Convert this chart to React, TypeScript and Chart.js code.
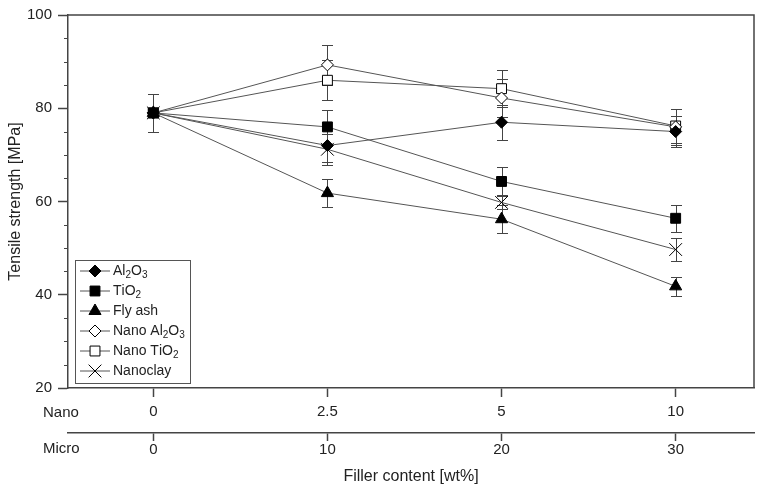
import React, { useEffect, useRef } from 'react';
import { Chart, registerables } from 'chart.js';
import { drawPoint } from 'chart.js/helpers';

Chart.register(...registerables);

// ---- data ----
const positions = [0, 1, 2, 3];
const nanoLabels = ['0', '2.5', '5', '10'];
const microLabels = ['0', '10', '20', '30'];
const yMajorTicks = [20, 40, 60, 80, 100];

const seriesNames = ['Al2O3', 'TiO2', 'Fly ash', 'Nano Al2O3', 'Nano TiO2', 'Nanoclay'];

const al2o3 = [79, 72, 77, 75];
const al2o3Err = [4, 3.5, 3.8, 3.3];
const tio2 = [79, 76, 64.3, 56.4];
const tio2Err = [4, 3.6, 3.2, 2.9];
const flyAsh = [79, 61.8, 56.2, 41.8];
const flyAshErr = [4, 3, 3, 2];
const nanoAl2o3 = [79, 89.3, 82.2, 76];
const nanoAl2o3Err = [4, 4.3, 4, 3.8];
const nanoTio2 = [79, 86, 84.2, 76.2];
const nanoTio2Err = [4, 4.3, 4, 3.7];
const nanoclay = [79, 71.2, 59.8, 49.7];
const nanoclayErr = [4, 3.3, 1.5, 2.4];

const seriesValues = [al2o3, tio2, flyAsh, nanoAl2o3, nanoTio2, nanoclay];
const seriesErrors = [al2o3Err, tio2Err, flyAshErr, nanoAl2o3Err, nanoTio2Err, nanoclayErr];

// ---- styles ----
const FONT = '"Liberation Sans", Arial, sans-serif';
const TEXT = '#222';
const AXIS = '#444';
const LINE = '#555';
const styles = [
  { pointStyle: 'rectRot', radius: 6, fill: '#000' },
  { pointStyle: 'rect', radius: 7, fill: '#000' },
  { pointStyle: 'triangle', radius: 7, fill: '#000' },
  { pointStyle: 'rectRot', radius: 6, fill: '#fff' },
  { pointStyle: 'rect', radius: 7, fill: '#fff' },
  { pointStyle: 'crossRot', radius: 9, fill: '#fff' },
];

const drawSubText = (ctx: CanvasRenderingContext2D, text: string, x: number, y: number, size: number) => {
  let cx = x;
  for (const ch of text) {
    const sub = /[0-9]/.test(ch);
    ctx.font = `${sub ? Math.round(size * 0.7) : size}px ${FONT}`;
    ctx.fillText(ch, cx, sub ? y + size * 0.3 : y);
    cx += ctx.measureText(ch).width;
  }
};

const decorPlugin = {
  id: 'decor',
  beforeDatasetsDraw(chart: any) {
    const { ctx, chartArea: ca, scales } = chart;
    const xs = scales.x;
    const ys = scales.y;
    ctx.save();
    // error bars
    ctx.strokeStyle = AXIS;
    ctx.lineWidth = 1;
    seriesValues.forEach((vals, si) => {
      const errs = seriesErrors[si];
      vals.forEach((v, i) => {
        const px = Math.round(xs.getPixelForValue(positions[i])) + 0.5;
        const t = Math.round(ys.getPixelForValue(v + errs[i])) + 0.5;
        const b = Math.round(ys.getPixelForValue(v - errs[i])) + 0.5;
        ctx.beginPath();
        ctx.moveTo(px, t); ctx.lineTo(px, b);
        ctx.moveTo(px - 5.5, t); ctx.lineTo(px + 5.5, t);
        ctx.moveTo(px - 5.5, b); ctx.lineTo(px + 5.5, b);
        ctx.stroke();
      });
    });
    ctx.restore();
  },
  afterDraw(chart: any) {
    const { ctx, chartArea: ca, scales } = chart;
    const ys = scales.y;
    ctx.save();
    // frame top/right
    ctx.strokeStyle = AXIS;
    ctx.lineWidth = 1.5;
    ctx.beginPath();
    ctx.moveTo(ca.left, ca.top);
    ctx.lineTo(ca.right, ca.top);
    ctx.lineTo(ca.right, ca.bottom);
    ctx.stroke();
    // minor y ticks
    ctx.lineWidth = 1;
    for (let v = 25; v < 100; v += 5) {
      if (v % 20 === 0) continue;
      const py = Math.round(ys.getPixelForValue(v)) + 0.5;
      ctx.beginPath();
      ctx.moveTo(ca.left - 4, py);
      ctx.lineTo(ca.left, py);
      ctx.stroke();
    }
    // row labels
    ctx.fillStyle = TEXT;
    ctx.font = `15px ${FONT}`;
    ctx.textAlign = 'left';
    ctx.textBaseline = 'middle';
    ctx.fillText('Nano', 43, scales.x.top + 25);
    ctx.fillText('Micro', 43, scales.x2.top + 16);
    // legend
    const lx = ca.left + 7;
    const lw = 115;
    const rowH = 20;
    const lh = rowH * seriesNames.length + 3;
    const ly = ca.bottom - 5 - lh;
    ctx.fillStyle = '#fff';
    ctx.fillRect(lx, ly, lw, lh);
    ctx.strokeStyle = '#555';
    ctx.lineWidth = 1;
    ctx.strokeRect(Math.round(lx) + 0.5, Math.round(ly) + 0.5, lw, lh);
    seriesNames.forEach((name, i) => {
      const cy = ly + 11 + i * rowH;
      ctx.strokeStyle = LINE;
      ctx.lineWidth = 1;
      ctx.beginPath();
      ctx.moveTo(lx + 5, cy);
      ctx.lineTo(lx + 35, cy);
      ctx.stroke();
      const st = styles[i];
      ctx.fillStyle = st.fill;
      ctx.strokeStyle = '#000';
      ctx.lineWidth = 1;
      drawPoint(ctx, { pointStyle: st.pointStyle, radius: st.radius, rotation: 0, borderWidth: 1 } as any, lx + 20, cy);
      ctx.fillStyle = TEXT;
      ctx.textAlign = 'left';
      ctx.textBaseline = 'middle';
      drawSubText(ctx, name, lx + 38, cy, 14);
    });
    ctx.restore();
  },
};

export default function App() {
  const ref = useRef<HTMLCanvasElement>(null);
  useEffect(() => {
    if (!ref.current) return;
    const datasets = seriesNames.map((name, si) => ({
      label: name,
      data: seriesValues[si].map((v, i) => ({ x: positions[i], y: v })),
      borderColor: LINE,
      borderWidth: 1,
      pointStyle: styles[si].pointStyle,
      pointRadius: styles[si].radius,
      pointBackgroundColor: styles[si].fill,
      pointBorderColor: '#000',
      pointBorderWidth: 1,
      tension: 0,
      fill: false,
    }));
    const setCatTicks = (s: any) => {
      s.ticks = positions.map((v) => ({ value: v }));
    };
    const chart = new Chart(ref.current, {
      type: 'line',
      data: { datasets },
      plugins: [decorPlugin],
      options: {
        animation: false,
        responsive: false,
        events: [],
        layout: { padding: { left: 0, right: 9, top: 15, bottom: 0 } },
        plugins: { legend: { display: false }, tooltip: { enabled: false } },
        scales: {
          x: {
            type: 'linear',
            position: 'bottom',
            min: -0.49,
            max: 3.45,
            afterBuildTicks: setCatTicks,
            afterFit: (s: any) => { s.height = 45; },
            grid: { drawOnChartArea: false, tickLength: 9, tickColor: AXIS, tickWidth: 1.5 },
            border: { color: AXIS, width: 1.5 },
            ticks: {
              padding: 6,
              color: TEXT,
              font: { family: FONT, size: 15 },
              maxRotation: 0,
              callback: (_v: any, i: number) => nanoLabels[i],
            },
          },
          x2: {
            type: 'linear',
            position: 'bottom',
            min: -0.49,
            max: 3.45,
            afterBuildTicks: setCatTicks,
            afterFit: (s: any) => { s.height = 53; },
            grid: { drawOnChartArea: false, tickLength: 8, tickColor: AXIS, tickWidth: 1.5 },
            border: { color: AXIS, width: 1.5 },
            ticks: {
              padding: 0,
              color: TEXT,
              font: { family: FONT, size: 15 },
              maxRotation: 0,
              callback: (_v: any, i: number) => microLabels[i],
            },
            title: {
              display: true,
              text: 'Filler content [wt%]',
              color: TEXT,
              font: { family: FONT, size: 16 },
              padding: { top: 0, bottom: 0 },
            },
          },
          y: {
            type: 'linear',
            min: 20,
            max: 100,
            afterBuildTicks: (s: any) => { s.ticks = yMajorTicks.map((v) => ({ value: v })); },
            afterFit: (s: any) => { s.width = 68; },
            grid: { drawOnChartArea: false, tickLength: 10, tickColor: AXIS, tickWidth: 1.5 },
            border: { color: AXIS, width: 1.5 },
            ticks: {
              padding: 6,
              color: TEXT,
              font: { family: FONT, size: 15 },
            },
            title: {
              display: true,
              text: 'Tensile strength [MPa]',
              color: TEXT,
              font: { family: FONT, size: 16 },
              padding: { top: 6, bottom: 0 },
            },
          },
        },
      },
    });
    return () => chart.destroy();
  }, []);
  return (
    <div style={{ position: 'fixed', left: 0, top: 0, width: 764, height: 486, background: '#fff' }}>
      <canvas ref={ref} width={764} height={486} style={{ width: 764, height: 486 }} />
    </div>
  );
}
